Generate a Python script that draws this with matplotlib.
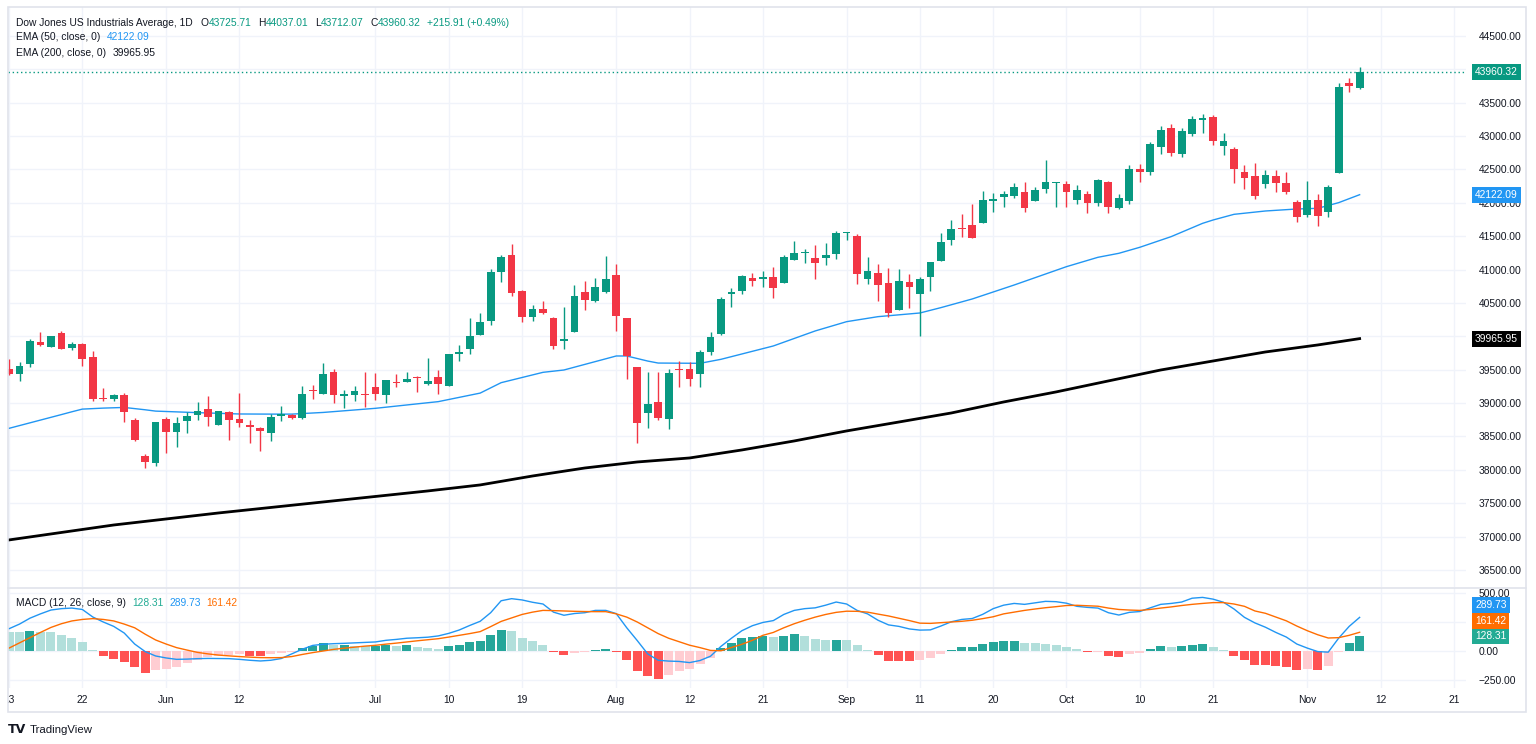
import numpy as np
import pandas as pd
import matplotlib
matplotlib.use('Agg')
import matplotlib.pyplot as plt
import matplotlib.transforms as mtransforms
from matplotlib.patches import Rectangle
from matplotlib.lines import Line2D

plt.rcParams['font.family'] = ['Liberation Sans', 'DejaVu Sans']

# --- data ---
dates = pd.bdate_range('2024-05-13', '2024-11-08')

opens = [39511, 39436, 39586, 39910, 39845, 40045, 39826, 39885, 39686, 39081,
         39066, 39121, 38742, 38208, 38098, 38762, 38567, 38732, 38827, 38912,
         38677, 38862, 38762, 38667, 38627, 38557, 38812, 38827, 38772, 39196,
         39142, 39471, 39102, 39117, 39137, 39247, 39117, 39316, 39321, 39396,
         39291, 39391, 39261, 39731, 39806, 40026, 40230, 40965, 41219, 40675,
         40295, 40415, 40275, 39926, 40066, 40670, 40530, 40670, 40925, 40270,
         39536, 38852, 39017, 38767, 39516, 39511, 39431, 39771, 40036, 40635,
         40680, 40870, 40860, 40885, 40805, 41149, 41254, 41169, 41179, 41229,
         41544, 41509, 40855, 40954, 40795, 40390, 40815, 40640, 40895, 41134,
         41444, 41629, 41663, 41693, 42033, 42093, 42108, 42168, 42028, 42213,
         42293, 42278, 42043, 42133, 42003, 42308, 41918, 42028, 42502, 42467,
         42842, 43117, 42737, 43027, 43246, 43281, 42857, 42812, 42462, 42403,
         42283, 42408, 42303, 42018, 41813, 42038, 41858, 42448, 43796, 43725.71]
highs = [39656, 39621, 39955, 40060, 40005, 40085, 39916, 39896, 39786, 39231,
         39136, 39156, 38782, 38233, 38712, 38797, 38787, 38872, 39017, 39111,
         38887, 38887, 39151, 38747, 38637, 38837, 38957, 38842, 39261, 39276,
         39596, 39511, 39197, 39261, 39461, 39446, 39351, 39431, 39461, 39401,
         39676, 39496, 39736, 39871, 40270, 40350, 41004, 41219, 41379, 40700,
         40470, 40525, 40285, 40445, 40770, 40825, 40870, 41209, 41084, 40270,
         39546, 39461, 39471, 39511, 39631, 39611, 39801, 40070, 40590, 40720,
         40919, 40955, 40979, 41034, 41224, 41434, 41314, 41374, 41394, 41579,
         41569, 41534, 41184, 41079, 41019, 41004, 40935, 40895, 41119, 41544,
         41743, 41833, 41983, 42178, 42143, 42183, 42293, 42308, 42233, 42642,
         42318, 42328, 42263, 42178, 42353, 42323, 42133, 42572, 42577, 42907,
         43152, 43182, 43117, 43306, 43331, 43316, 43042, 42837, 42567, 42592,
         42493, 42493, 42463, 42038, 42328, 42133, 42263, 43791, 43866, 44037.01]
lows = [39421, 39331, 39546, 39861, 39836, 39806, 39796, 39561, 39037, 39027,
        39027, 38717, 38437, 38023, 38063, 38248, 38347, 38557, 38747, 38662,
        38667, 38452, 38637, 38407, 38287, 38437, 38727, 38767, 38757, 39062,
        39142, 38997, 38932, 39032, 38947, 39047, 39007, 39237, 39311, 39171,
        39276, 39137, 39261, 39636, 39731, 40026, 40175, 40810, 40605, 40210,
        40235, 40335, 39811, 39811, 40066, 40395, 40515, 40655, 40086, 39361,
        38407, 38632, 38747, 38607, 39237, 39257, 39242, 39721, 40026, 40440,
        40635, 40760, 40745, 40580, 40795, 41149, 41094, 40855, 41069, 41164,
        41444, 40790, 40790, 40530, 40295, 40390, 40420, 40010, 40680, 41134,
        41369, 41494, 41469, 41693, 41868, 41943, 42068, 41868, 42028, 42153,
        41933, 41943, 41978, 41853, 41958, 41843, 41903, 41978, 42318, 42418,
        42727, 42707, 42682, 43002, 43052, 42867, 42717, 42293, 42203, 42058,
        42218, 42168, 42138, 41708, 41793, 41658, 41793, 42448, 43656, 43712.07]
closes = [39436, 39561, 39930, 39866, 40005, 39806, 39885, 39666, 39061, 39061,
          39126, 38867, 38452, 38118, 38712, 38572, 38697, 38802, 38882, 38797,
          38877, 38747, 38707, 38637, 38587, 38792, 38842, 38782, 39136, 39176,
          39431, 39117, 39142, 39182, 39117, 39142, 39351, 39296, 39366, 39376,
          39336, 39281, 39736, 39766, 40001, 40220, 40965, 41194, 40655, 40295,
          40415, 40350, 39851, 39956, 40605, 40545, 40735, 40860, 40305, 39711,
          38702, 38987, 38772, 39456, 39496, 39356, 39761, 39991, 40565, 40670,
          40905, 40830, 40885, 40720, 41184, 41249, 41269, 41094, 41224, 41554,
          41559, 40939, 40979, 40765, 40345, 40830, 40745, 40855, 41119, 41409,
          41609, 41609, 41479, 42038, 42063, 42133, 42238, 41918, 42198, 42308,
          42318, 42168, 42198, 41998, 42343, 41933, 42073, 42512, 42458, 42882,
          43092, 42742, 43077, 43256, 43271, 42927, 42932, 42512, 42378, 42108,
          42423, 42303, 42158, 41783, 42048, 41803, 42243, 43731, 43744.41, 43960.32]

ema50 = [38622, 38663, 38705, 38746, 38787, 38828, 38870, 38910, 38918, 38925,
         38930, 38935, 38918, 38900, 38880, 38874, 38868, 38862, 38857, 38852,
         38847, 38842, 38837, 38836, 38836, 38835, 38835, 38835, 38843, 38852,
         38860, 38872, 38885, 38897, 38910, 38922, 38939, 38955, 38972, 38989,
         39005, 39022, 39054, 39086, 39118, 39150, 39228, 39306, 39345, 39384,
         39422, 39461, 39478, 39496, 39538, 39580, 39621, 39664, 39706, 39706,
         39668, 39630, 39600, 39599, 39598, 39597, 39596, 39626, 39656, 39696,
         39736, 39776, 39816, 39856, 39912, 39968, 40025, 40081, 40127, 40174,
         40220, 40245, 40270, 40295, 40309, 40322, 40336, 40350, 40390, 40430,
         40473, 40517, 40560, 40612, 40665, 40717, 40769, 40824, 40879, 40934,
         40989, 41044, 41091, 41137, 41184, 41214, 41244, 41289, 41334, 41387,
         41441, 41494, 41560, 41627, 41693, 41743, 41786, 41828, 41845, 41861,
         41878, 41888, 41898, 41908, 41913, 41918, 41960, 42003, 42062, 42122.09]

ema200_bar = [0, 10, 20, 30, 40, 45, 50, 55, 60, 65, 70, 75, 80, 85, 90, 95,
              100, 105, 110, 115, 120, 125, 129]
ema200 = [36950, 37174, 37354, 37519, 37684, 37774, 37908, 38028, 38118, 38178,
          38298, 38433, 38583, 38717, 38852, 39017, 39167, 39332, 39496, 39631,
          39766, 39871, 39965.95]

macd = [192, 232, 283, 320, 353, 365, 370, 358, 293, 250,
        212, 155, 60, -5, -43, -60, -72, -70, -66, -64,
        -65, -66, -72, -80, -86, -80, -65, -25, 15, 48,
        58, 63, 66, 70, 74, 78, 92, 100, 110, 114,
        119, 130, 152, 181, 220, 256, 330, 433, 451, 440,
        420, 405, 335, 308, 323, 330, 350, 350, 322, 200,
        90, -25, -80, -87, -90, -100, -82, -45, 40, 110,
        175, 218, 246, 262, 315, 350, 365, 372, 395, 422,
        405, 350, 320, 265, 225, 212, 190, 180, 182, 215,
        252, 272, 280, 316, 365, 395, 410, 402, 415, 428,
        425, 412, 385, 376, 370, 330, 310, 333, 340, 372,
        402, 410, 422, 455, 462, 447, 420, 362, 290, 242,
        205, 160, 120, 60, 25, -5, -10, 111, 212, 289.73]
signal = [25, 70, 115, 160, 203, 235, 259, 272, 279, 272,
          259, 232, 200, 145, 95, 60, 29, 8, -12, -25,
          -35, -42, -48, -53, -57, -58, -57, -48, -30, -14,
          0, 14, 24, 33, 42, 49, 59, 68, 78, 88,
          97, 106, 120, 135, 150, 167, 210, 255, 285, 315,
          335, 350, 348, 345, 342, 340, 339, 339, 320, 292,
          250, 200, 150, 110, 80, 50, 29, 5, 2, 30,
          58, 92, 135, 160, 200, 235, 265, 292, 315, 333,
          343, 342, 335, 318, 302, 282, 262, 240, 238, 244,
          250, 256, 265, 279, 295, 320, 335, 350, 362, 373,
          382, 392, 394, 390, 386, 370, 358, 353, 350, 358,
          370, 380, 392, 402, 410, 417, 417, 405, 385, 345,
          325, 292, 260, 215, 175, 140, 112, 115, 135, 161.42]
hist = [167, 167, 172, 167, 167, 138, 109, 80, 11, -43,
        -69, -92, -141, -187, -164, -155, -135, -106, -78, -55,
        -43, -34, -29, -40, -41, -26, -14, -6, 26, 43,
        66, 49, 52, 46, 43, 46, 52, 45, 48, 32,
        26, 17, 43, 49, 75, 86, 141, 185, 170, 115,
        86, 55, -5, -37, -20, -11, 11, 17, -11, -75,
        -172, -215, -244, -207, -172, -152, -109, -63, 23, 72,
        109, 124, 129, 124, 129, 144, 132, 106, 92, 98,
        92, 49, 6, -34, -86, -88, -89, -80, -57, -26,
        9, 32, 33, 63, 80, 89, 90, 66, 65, 57,
        49, 32, 17, -11, -9, -43, -52, -23, -17, 17,
        40, 32, 40, 55, 56, 32, 9, -43, -80, -118,
        -119, -126, -135, -164, -158, -160, -126, -6, 72, 128.31]

tick_dates = ['2024-05-13', '2024-05-22', '2024-06-03', '2024-06-12', '2024-07-01',
              '2024-07-10', '2024-07-19', '2024-08-01', '2024-08-12', '2024-08-21',
              '2024-09-02', '2024-09-11', '2024-09-20', '2024-10-01', '2024-10-10',
              '2024-10-21', '2024-11-01', '2024-11-12', '2024-11-21']
tick_labels = ['13', '22', 'Jun', '12', 'Jul', '10', '19', 'Aug', '12', '21',
               'Sep', '11', '20', 'Oct', '10', '21', 'Nov', '12', '21']

price_ticks = np.arange(36500, 44501, 500)
hidden_price_ticks = [44000, 40000]   # covered by the value tags in the original
macd_ticks = [-250, 0, 250, 500]
hidden_macd_ticks = [250]

# --- colours ---
UP = '#089981'
DOWN = '#f23645'
TXT = '#131722'
GRID = '#f0f3fa'
BORDER = '#e0e3eb'
BLUE = '#2196f3'
ORANGE = '#ff6d00'
TEAL = '#22ab94'
FS = 7.4

W, H = 1536, 744
fig = plt.figure(figsize=(W / 100, H / 100), dpi=100)
ax1 = fig.add_axes([8 / W, 1 - 587 / H, 1458 / W, 580 / H])
ax2 = fig.add_axes([8 / W, 1 - 688 / H, 1458 / W, 100 / H])
for ax in (ax1, ax2):
    ax.patch.set_visible(False)

x = np.arange(len(closes))
o = np.array(opens); c = np.array(closes); hi = np.array(highs); lo = np.array(lows)
up = c >= o
cols = np.where(up, UP, DOWN)

# candles
ax1.vlines(x, lo, hi, colors=cols, lw=1, zorder=3)
body_h = np.maximum(np.abs(c - o), 14)
ax1.bar(x, body_h, bottom=np.minimum(o, c), width=0.74, color=cols, zorder=4, linewidth=0)

ax1.plot(x, ema50, color=BLUE, lw=1, zorder=2)
ax1.plot(ema200_bar, ema200, color='black', lw=2, zorder=2)
ax1.axhline(closes[-1], color=UP, lw=1, ls=(0, (1, 2)), zorder=1)

# MACD pane
hcol = []
for i, hv in enumerate(hist):
    prev = hist[i - 1] if i > 0 else hv + 1
    if hv >= 0:
        hcol.append('#26a69a' if hv > prev else '#b2dfdb')
    else:
        hcol.append('#ffcdd2' if hv > prev else '#ff5252')
ax2.bar(x, hist, width=0.86, color=hcol, linewidth=0, zorder=2)
ax2.plot(x, macd, color=BLUE, lw=1, zorder=3)
ax2.plot(x, signal, color=ORANGE, lw=1, zorder=3)

# axes cosmetics
all_days = pd.bdate_range('2024-05-13', '2024-11-29')
tick_pos = [all_days.get_loc(pd.Timestamp(d)) for d in tick_dates]
for ax in (ax1, ax2):
    ax.set_xlim(-0.1, 139.16)
    for s in ax.spines.values():
        s.set_visible(False)
    ax.yaxis.tick_right()
    ax.tick_params(axis='both', length=0, labelsize=FS, labelcolor=TXT)
    ax.tick_params(axis='y', pad=9)
    ax.set_xticks(tick_pos)
    ax.grid(True, color=GRID, lw=1, zorder=0)
    ax.set_axisbelow(True)

ax1.set_ylim(36245, 44934)
ax1.set_yticks(price_ticks)
ax1.set_yticklabels(['' if v in hidden_price_ticks else f'{v:.2f}' for v in price_ticks])
ax1.tick_params(axis='x', labelbottom=False)

ax2.set_ylim(-319, 543)
ax2.set_yticks(macd_ticks)
ax2.set_yticklabels(['' if v in hidden_macd_ticks else f'{v:.2f}'.replace('-', '\u2212')
                     for v in macd_ticks])
ax2.set_xticklabels(tick_labels)
ax2.tick_params(axis='x', pad=5)

# clip first date label at the pane edge
clip = mtransforms.TransformedBbox(mtransforms.Bbox([[8 / W, 0], [1, 1]]), fig.transFigure)
first = ax2.get_xticklabels()[0]
first.set_clip_on(True)
first.set_clip_box(clip)


# right-side value tags
def value_tag(ax, y, text, fc):
    tr = mtransforms.blended_transform_factory(fig.transFigure, ax.transData)
    ax.text(1475 / W, y, text, transform=tr, ha='left', va='center', color='white',
            fontsize=FS, zorder=20, clip_on=False,
            bbox=dict(boxstyle='square,pad=0.3', fc=fc, ec='none'))


value_tag(ax1, closes[-1], f'{closes[-1]:.2f}', UP)
value_tag(ax1, ema50[-1], f'{ema50[-1]:.2f}', BLUE)
value_tag(ax1, ema200[-1], f'{ema200[-1]:.2f}', 'black')

# MACD tags are stacked so they do not overlap
tags = sorted([(hist[-1], TEAL), (signal[-1], ORANGE), (macd[-1], BLUE)])
gap = 15.5 * (543 + 319) / 100
level = -1e9
for v, fc in tags:
    pos = max(v, level + gap)
    value_tag(ax2, pos, f'{v:.2f}', fc)
    level = pos


# legend lines: segments placed one after the other
def legend_line(y_px, parts, gaps=6):
    last = None
    for i, (txt, col) in enumerate(parts):
        if last is None:
            last = fig.text(16 / W, 1 - y_px / H, txt, color=col, fontsize=FS,
                            ha='left', va='baseline')
        else:
            g = gaps[i - 1] if isinstance(gaps, list) else gaps
            last = ax1.annotate(txt, xy=(1, 0), xycoords=last, xytext=(g * 0.72, 0),
                                textcoords='offset points', color=col, fontsize=FS,
                                ha='left', va='bottom', annotation_clip=False, zorder=30)


legend_line(26, [('Dow Jones US Industrials Average, 1D', TXT), ('O', TXT), ('43725.71', UP),
                 ('H', TXT), ('44037.01', UP), ('L', TXT), ('43712.07', UP),
                 ('C', TXT), ('43960.32', UP), ('+215.91 (+0.49%)', UP)],
            gaps=[8, 0, 7, 0, 7, 0, 7, 0, 6])
legend_line(40.5, [('EMA (50, close, 0)', TXT), ('42122.09', BLUE)])
legend_line(55.5, [('EMA (200, close, 0)', TXT), ('39965.95', TXT)])
legend_line(606, [('MACD (12, 26, close, 9)', TXT), ('128.31', TEAL),
                  ('289.73', BLUE), ('161.42', ORANGE)])

# frame and pane separator
fig.add_artist(Rectangle((8 / W, 1 - 712 / H), 1518 / W, 705 / H, transform=fig.transFigure,
                         fill=False, ec=BORDER, lw=1.2))
fig.add_artist(Line2D([8 / W, 1526 / W], [1 - 587.5 / H] * 2, transform=fig.transFigure,
                      color=BORDER, lw=1.2))

# logo
fig.text(8 / W, 1 - 733 / H, 'TV', fontsize=9, weight='heavy', color=TXT,
         family='DejaVu Sans', va='baseline')
fig.text(30 / W, 1 - 733 / H, 'TradingView', fontsize=8.2, color=TXT, va='baseline')

fig.savefig('out.png', dpi=100)
